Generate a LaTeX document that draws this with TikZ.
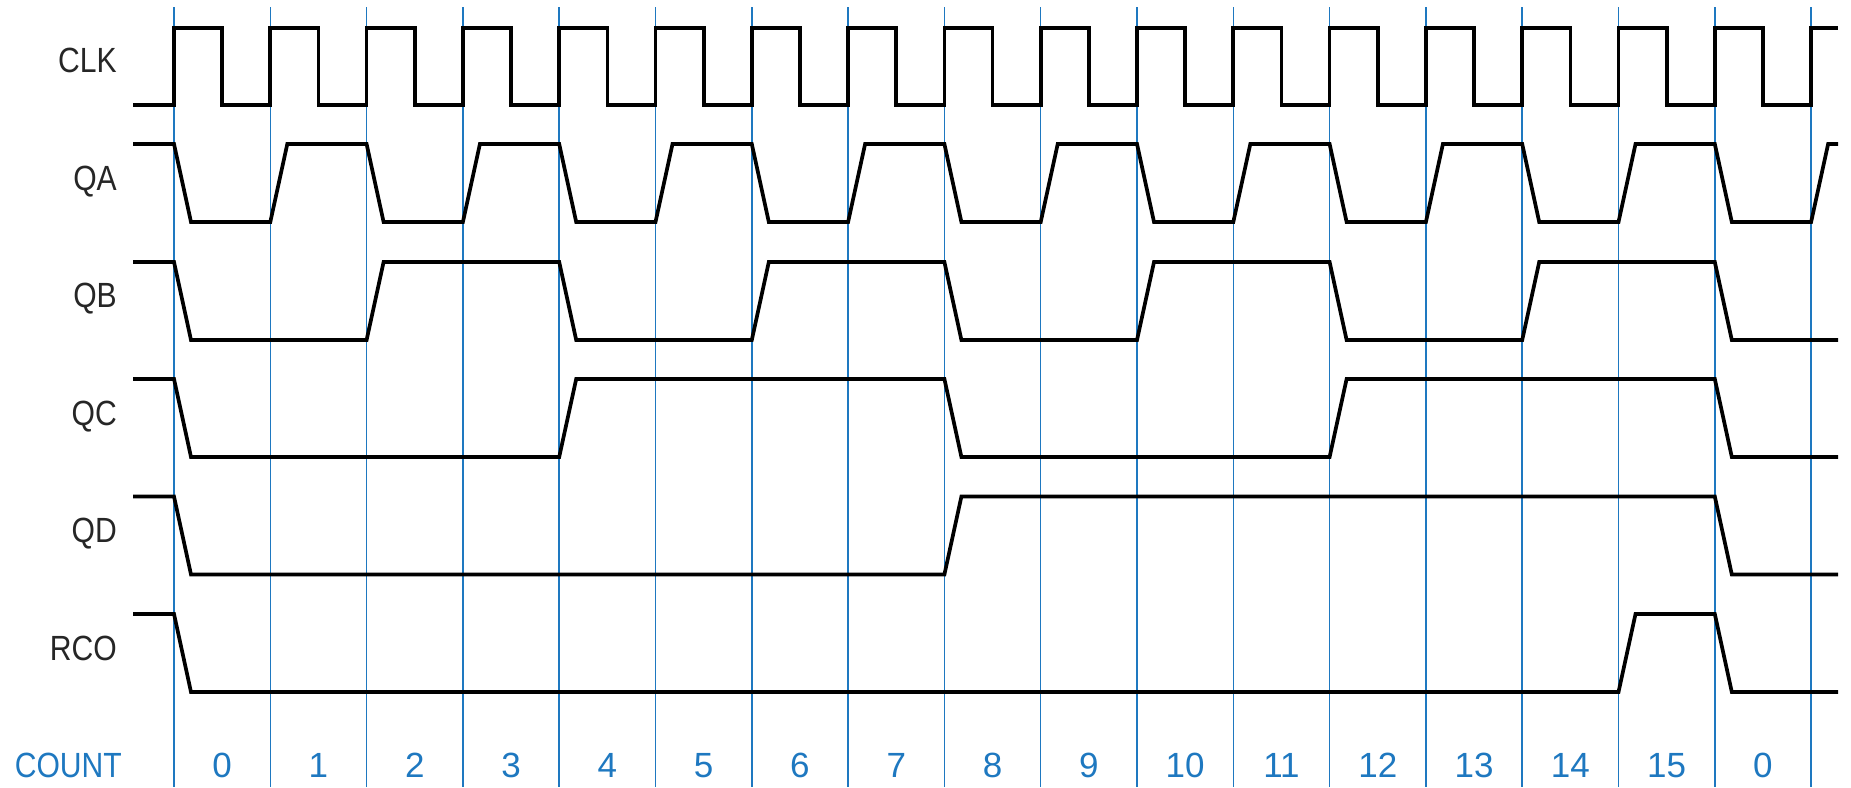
\documentclass[tikz,border=0pt]{standalone}
\usepackage{graphicx}
\usepackage{fontspec}
\newfontfamily\labfont{Liberation Sans}
\definecolor{gridblue}{RGB}{30,120,192}
\newcommand{\nar}[1]{\scalebox{0.86}[1]{#1}}
\begin{document}
\begin{tikzpicture}[x=1pt,y=-1pt,
  sig/.style={line width=3.7pt,black,line join=miter},
  grid/.style={line width=1.5pt,gridblue},
  lbl/.style={anchor=base east,inner sep=0pt,text=black!85,font=\labfont\fontsize{35}{42}\selectfont},
  cnt/.style={anchor=base,inner sep=0pt,text=gridblue,font=\labfont\fontsize{35}{42}\selectfont}]
\useasboundingbox (0,0) rectangle (1851,787);
\def\per{96.3}
\def\xo{174}
% grid lines
\foreach \k in {0,...,17}{
  \draw[grid] ({\xo+\per*\k},7) -- ({\xo+\per*\k},787);
}
% count labels
\foreach \k in {0,...,16}{
  \pgfmathtruncatemacro{\c}{mod(\k,16)}
  \node[cnt] (c\k) at ({\xo+\per*\k+\per/2},777) {\c};
}
\node[lbl,text=gridblue,anchor=base east] (count) at (122,777) {\nar{COUNT}};
% signal labels
\node[lbl] (lclk) at (117,72) {\nar{CLK}};
\node[lbl] (lqa) at (117,190) {\nar{QA}};
\node[lbl] (lqb) at (117,307.5) {\nar{QB}};
\node[lbl] (lqc) at (117,425) {\nar{QC}};
\node[lbl] (lqd) at (117,542.5) {\nar{QD}};
\node[lbl] (lrco) at (117,660) {\nar{RCO}};
% clock
\draw[sig] (133,105)
  \foreach \k [evaluate=\k as \xa using {\xo+\per*\k},
               evaluate=\k as \xb using {\xo+\per*\k+\per/2}] in {0,...,16}
  { -- (\xa,105) -- (\xa,28) -- (\xb,28) -- (\xb,105) }
  -- ({\xo+\per*17},105) -- ({\xo+\per*17},28) -- (1838,28);
% counter bits
\foreach \b/\hi in {0/144,1/262,2/379,3/496.5}{
  \pgfmathsetmacro{\p}{2^\b}
  \draw[sig] (133,\hi)
    \foreach \k [evaluate=\k as \xa using {\xo+\per*\k},
                 evaluate=\k as \yp using {\hi+78*(1-mod(floor(mod(\k+15,16)/\p),2))},
                 evaluate=\k as \yn using {\hi+78*(1-mod(floor(mod(\k,16)/\p),2))}] in {0,...,17}
    { -- (\xa,\yp) -- (\xa+17,\yn) }
    -- ++(9.9,0);
}
% RCO
\draw[sig] (133,614) -- (\xo,614) -- (\xo+17,692)
  -- ({\xo+\per*15},692) -- ({\xo+\per*15+17},614)
  -- ({\xo+\per*16},614) -- ({\xo+\per*16+17},692) -- (1838,692);
\end{tikzpicture}
\end{document}
